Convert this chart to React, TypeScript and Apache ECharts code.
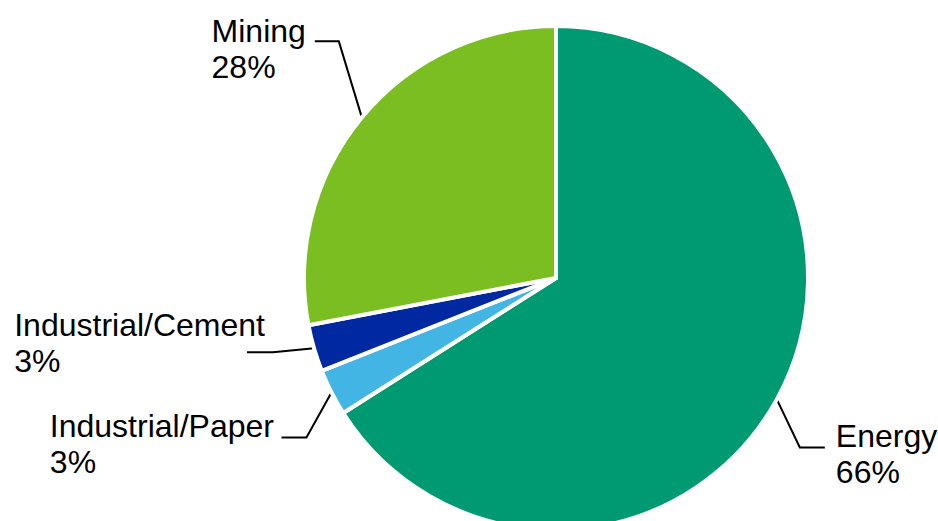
import React, { useEffect, useRef } from "react";
import * as echarts from "echarts";

const categories = ["Energy", "Industrial/Paper", "Industrial/Cement", "Mining"];
const shares = [66, 3, 3, 28];
const sliceColors = ["#009A72", "#42B5E5", "#0028A0", "#7BBE22"];

// label leader-line shape per slice (elbow offset, horizontal run, text gap, vertical offset)
const leaderShapes = [
  { d1: [23, 48], d2: 25, gap: 11, dy: 7 },
  { d1: [-25, 45], d2: -25, gap: 7.5, dy: 7 },
  { d1: [-41, 4], d2: -26, gap: -18, dy: -9 },
  { d1: [-23, -76], d2: -24, gap: 9, dy: 7.5 },
];

export default function App() {
  const ref = useRef<HTMLDivElement>(null);
  useEffect(() => {
    if (!ref.current) return;
    const chart = echarts.init(ref.current, null, { renderer: "svg" });
    chart.setOption({
      animation: false,
      backgroundColor: "#ffffff",
      series: [
        {
          type: "pie",
          center: [556, 278],
          radius: 252,
          startAngle: 90,
          clockwise: true,
          avoidLabelOverlap: false,
          itemStyle: { borderColor: "#ffffff", borderWidth: 4 },
          label: {
            show: true,
            position: "outside",
            formatter: "{b}\n{c}%",
            fontFamily: "Liberation Sans, Arial, sans-serif",
            fontSize: 32,
            lineHeight: 36,
            color: "#000000",
          },
          labelLine: {
            show: true,
            length: 20,
            length2: 20,
            smooth: false,
            lineStyle: { color: "#000000", width: 2 },
          },
          labelLayout: (params: any) => {
            const i = params.dataIndex;
            const s = leaderShapes[i];
            const pts = params.labelLinePoints;
            if (!pts || !pts[0]) return {};
            const p0 = [pts[0][0], pts[0][1]];
            const p1 = [p0[0] + s.d1[0], p0[1] + s.d1[1]];
            const p2 = [p1[0] + s.d2, p1[1]];
            const w = params.labelRect.width;
            const x = s.d2 > 0 ? p2[0] + s.gap : p2[0] - s.gap - w;
            return {
              x,
              y: p2[1] + s.dy,
              align: "left",
              verticalAlign: "middle",
              labelLinePoints: [p0, p1, p2],
            };
          },
          data: categories.map((name, i) => ({
            name,
            value: shares[i],
            itemStyle: { color: sliceColors[i] },
          })),
        },
      ],
    });
    return () => chart.dispose();
  }, []);
  return (
    <div
      ref={ref}
      style={{ position: "absolute", left: 0, top: 0, width: 938, height: 521 }}
    />
  );
}
